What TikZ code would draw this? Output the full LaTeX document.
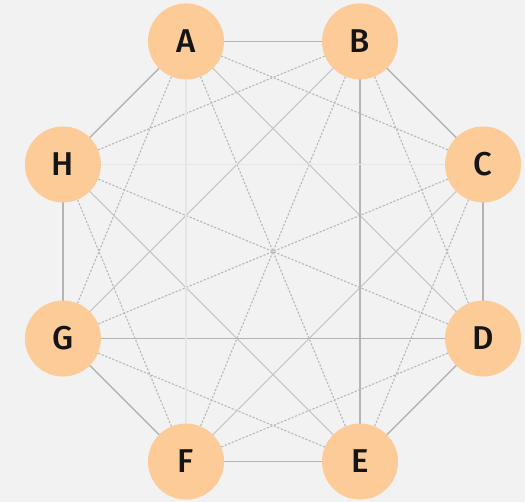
\documentclass[tikz,border=0pt]{standalone}
\usepackage{fontspec}
\setmainfont{Fira Sans}[BoldFont={Fira Sans Medium}]
\definecolor{bgc}{HTML}{F2F2F2}
\definecolor{peach}{HTML}{FDCB98}
\definecolor{edgec}{HTML}{B4B4B4}
\definecolor{diagc}{HTML}{C6C6C6}
\definecolor{dashc}{HTML}{B8B8B8}
\definecolor{faintc}{HTML}{E6E6E6}
\definecolor{txt}{HTML}{151515}
\pgfdeclarelayer{back}
\pgfdeclarelayer{lines}
\pgfsetlayers{back,lines,main}
\tikzset{
  vnode/.style={circle, fill=peach, minimum size=76pt, inner sep=0pt, text=txt, font=\fontsize{33}{33}\selectfont\bfseries},
  sideline/.style={draw=edgec, line width=1.3pt},
  dashline/.style={draw=dashc, line width=1.1pt, dash pattern=on 2.2pt off 1.6pt},
  solidline/.style={draw=diagc, line width=1pt},
  faintline/.style={draw=faintc, line width=1.2pt},
  midline/.style={draw=edgec, line width=1.1pt}
}
\begin{document}
\begin{tikzpicture}[x=1pt,y=1pt]
\begin{pgfonlayer}{back}
\fill[bgc] (0,0) rectangle (525,502);
\end{pgfonlayer}
\useasboundingbox (0,0) rectangle (525,502);
\coordinate (O) at (273,250.5);
\path (O) ++(112.5:227.4) node[vnode] (A) {A};
\path (O) ++(67.5:227.4) node[vnode] (B) {B};
\path (O) ++(22.5:227.4) node[vnode] (C) {C};
\path (O) ++(-22.5:227.4) node[vnode] (D) {D};
\path (O) ++(-67.5:227.4) node[vnode] (E) {E};
\path (O) ++(-112.5:227.4) node[vnode] (F) {F};
\path (O) ++(-157.5:227.4) node[vnode] (G) {G};
\path (O) ++(157.5:227.4) node[vnode] (H) {H};
\begin{pgfonlayer}{lines}
% sides
\foreach \u/\v in {A/B,B/C,C/D,D/E,E/F,F/G,G/H,H/A}
  \draw[sideline] (\u.center) -- (\v.center);
% skip-one diagonals (dashed)
\foreach \u/\v in {A/C,B/D,C/E,D/F,E/G,F/H,G/A,H/B}
  \draw[dashline] (\u.center) -- (\v.center);
% long diagonals through centre (dashed)
\foreach \u/\v in {A/E,B/F,C/G,D/H}
  \draw[dashline] (\u.center) -- (\v.center);
% skip-two diagonals (solid)
\foreach \u/\v in {A/D,B/G,C/F,E/H}
  \draw[solidline] (\u.center) -- (\v.center);
\foreach \u/\v in {B/E,D/G}
  \draw[midline] (\u.center) -- (\v.center);
\foreach \u/\v in {A/F,C/H}
  \draw[faintline] (\u.center) -- (\v.center);
\end{pgfonlayer}
\end{tikzpicture}
\end{document}
